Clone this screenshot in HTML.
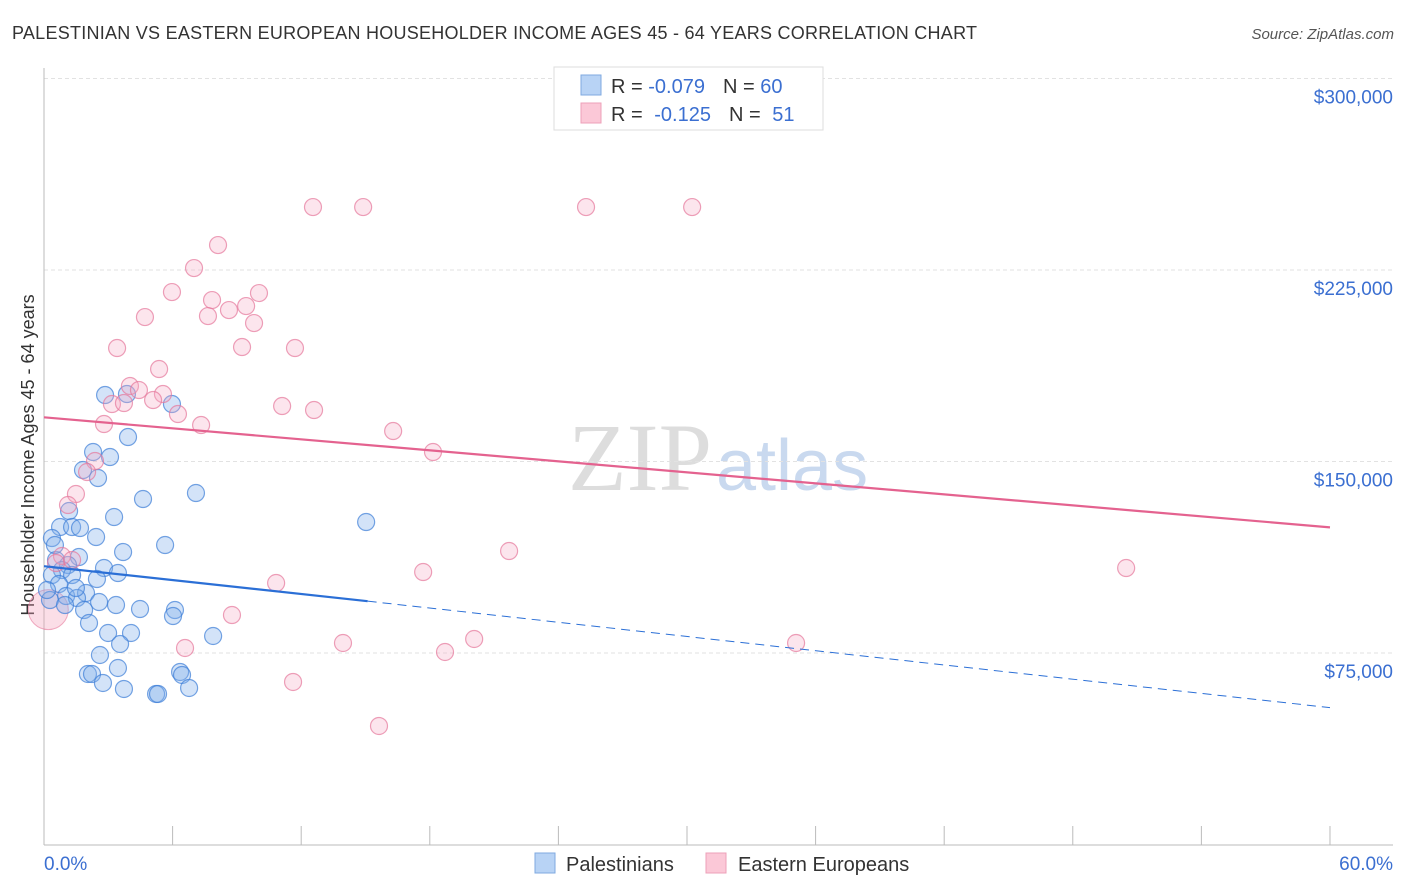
<!DOCTYPE html>
<html><head><meta charset="utf-8"><style>
body{margin:0;background:#fff;font-family:"Liberation Sans",sans-serif;}
svg{display:block}
</style></head><body>
<svg id="c" width="1406" height="892" xmlns="http://www.w3.org/2000/svg">
<text x="12" y="39" font-size="18" fill="#333" textLength="965">PALESTINIAN VS EASTERN EUROPEAN HOUSEHOLDER INCOME AGES 45 - 64 YEARS CORRELATION CHART</text>
<text x="1394" y="39" font-size="15" fill="#555" font-style="italic" text-anchor="end">Source: ZipAtlas.com</text>
<text x="712" y="490" font-size="96" fill="#ddd" text-anchor="end" font-family="Liberation Serif,serif">ZIP</text>
<text x="716" y="490" font-size="72" fill="#c9d9ef">atlas</text>
<text transform="translate(34,455) rotate(-90)" font-size="18" fill="#333" text-anchor="middle">Householder Income Ages 45 - 64 years</text>
<g id="grid"></g><g id="marks"></g>
<g>
<rect x="554" y="67" width="269" height="63" fill="#fff" stroke="#ddd"/>
<rect x="581" y="75" width="20" height="20" fill="#b8d3f5" stroke="#7fa9e0"/>
<rect x="581" y="103" width="20" height="20" fill="#fbc8d7" stroke="#eea0b8"/>
<text x="611" y="93" font-size="20" fill="#333">R = <tspan fill="#3b6fd1">-0.079</tspan><tspan dx="18">N = </tspan><tspan fill="#3b6fd1">60</tspan></text>
<text x="611" y="121" font-size="20" fill="#333">R = <tspan dx="6" fill="#3b6fd1">-0.125</tspan><tspan dx="18">N = </tspan><tspan dx="6" fill="#3b6fd1">51</tspan></text>
</g>
<g>
<rect x="535" y="853" width="20" height="20" fill="#b8d3f5" stroke="#7fa9e0"/>
<text x="566" y="871" font-size="20" fill="#333">Palestinians</text>
<rect x="706" y="853" width="20" height="20" fill="#fbc8d7" stroke="#eea0b8"/>
<text x="738" y="871" font-size="20" fill="#333">Eastern Europeans</text>
</g>
<text x="44" y="870" font-size="19" fill="#3b6fd1">0.0%</text>
<text x="1393" y="870" font-size="19" fill="#3b6fd1" text-anchor="end">60.0%</text>
</svg>
<script>
const yTicks=[75000,150000,225000,300000];
const yTickLabels=["$75,000","$150,000","$225,000","$300,000"];
const xTicks=[0,6,12,18,24,30,36,42,48,54,60];
const bluePx=[[105,395],[127,394],[172,404],[128,437],[93,452],[110,457],[83,470],[98,478],[143,499],[196,493],[69,511],[114,517],[60,527],[72,527],[80,528],[52,538],[96,537],[165,545],[123,552],[79,557],[56,560],[68,565],[62,570],[104,568],[118,573],[72,575],[97,579],[52,575],[59,584],[86,593],[66,596],[77,598],[116,605],[140,609],[84,610],[175,610],[173,616],[89,623],[108,633],[131,633],[213,636],[120,644],[100,655],[118,668],[180,672],[182,675],[88,674],[92,674],[103,683],[124,689],[189,688],[156,694],[158,694],[366,522],[50,600],[55,545],[65,605],[47,590],[76,588],[99,602]];
const pinkPx=[[313,207],[363,207],[586,207],[692,207],[218,245],[194,268],[172,292],[212,300],[259,293],[246,306],[229,310],[208,316],[145,317],[254,323],[117,348],[242,347],[295,348],[159,369],[130,386],[139,390],[163,394],[112,404],[124,403],[153,400],[282,406],[314,410],[178,414],[201,425],[104,424],[393,431],[433,452],[95,461],[87,472],[76,494],[68,505],[509,551],[1126,568],[62,556],[276,583],[423,572],[56,563],[232,615],[343,643],[474,639],[445,652],[796,643],[185,648],[293,682],[379,726],[72,560]];
// data converted to (percent, income)
const blueX=bluePx.map(p=>+((p[0]-44)/21.43).toFixed(2));
const blueY=bluePx.map(p=>Math.round(75000+(653-p[1])*391.6));
const pinkX=pinkPx.map(p=>+((p[0]-44)/21.43).toFixed(2));
const pinkY=pinkPx.map(p=>Math.round(75000+(653-p[1])*391.6));
const blueTrend=[[0,109000],[15.1,95300],[60,53600]];
const pinkTrend=[[0,167300],[60,124200]];
const X=v=>44+v*21.433, Y=v=>653-(v-75000)/75000*191.5;
const NS="http://www.w3.org/2000/svg";
function mk(t,a,p){const e=document.createElementNS(NS,t);for(const k in a)e.setAttribute(k,a[k]);p.appendChild(e);return e;}
const g=document.getElementById('grid'),m=document.getElementById('marks');
yTicks.forEach((v,i)=>{
 const l=mk('line',{x1:44,x2:1393,y1:Y(v),y2:Y(v),stroke:'#e2e2e2','stroke-dasharray':'4,3'},g);
 
 
 const t=mk('text',{x:1393,y:Y(v)+25,'font-size':19,fill:'#3b6fd1','text-anchor':'end'},g);
 t.textContent=yTickLabels[i];
 
 
});
const ax=mk('line',{x1:44,x2:44,y1:68,y2:845,stroke:'#bbb'},g);


const bx=mk('line',{x1:44,x2:1393,y1:845,y2:845,stroke:'#bbb'},g);


xTicks.forEach(v=>{const l=mk('line',{x1:X(v),x2:X(v),y1:826,y2:845,stroke:'#bbb'},g);
 
 });
const bc=mk('circle',{cx:X(0.2),cy:Y(92000),r:20,fill:'rgba(244,160,185,0.35)',stroke:'rgba(230,120,155,0.6)'},m);


blueX.forEach((x,i)=>{const c=mk('circle',{cx:X(x),cy:Y(blueY[i]),r:8.5,fill:'rgba(130,175,235,0.35)',stroke:'rgba(60,125,215,0.7)','stroke-width':1.2},m);
 
 });
pinkX.forEach((x,i)=>{const c=mk('circle',{cx:X(x),cy:Y(pinkY[i]),r:8.5,fill:'rgba(245,170,195,0.3)',stroke:'rgba(230,120,155,0.7)','stroke-width':1.2},m);
 
 });
const pl=mk('line',{x1:X(pinkTrend[0][0]),y1:Y(pinkTrend[0][1]),x2:X(pinkTrend[1][0]),y2:Y(pinkTrend[1][1]),stroke:'#e4628f','stroke-width':2.2},m);


const bl=mk('line',{x1:X(blueTrend[0][0]),y1:Y(blueTrend[0][1]),x2:X(blueTrend[1][0]),y2:Y(blueTrend[1][1]),stroke:'#2b6fd6','stroke-width':2.2},m);


const bd=mk('line',{x1:X(blueTrend[1][0]),y1:Y(blueTrend[1][1]),x2:X(blueTrend[2][0]),y2:Y(blueTrend[2][1]),stroke:'#2b6fd6','stroke-width':1,'stroke-dasharray':'9,6'},m);


</script>
</body></html>
